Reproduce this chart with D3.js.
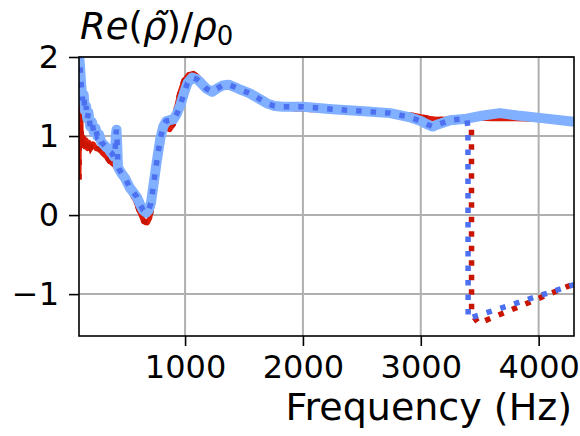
<!DOCTYPE html>
<html>
<head>
    <title></title>
    <meta charset="utf-8" />
    <style>
        body { margin: 0; background: #fff; }
        svg { display: block; }
        text { font-family: "DejaVu Sans", sans-serif; fill: #000; }
    </style>
    <script src="https://d3js.org/d3.v7.min.js"></script>
</head>
<body>

<svg id="svg"></svg>

<script>

// red solid curve
let freqRed = [100,103,106,110,114,118,122,128,135,142,150,160,172,185,200,220,245,270,300,330,360,400,440,480,530,580,620,650,680,700,720,740,760,790,810,840,870,900,930,960,990,1030,1070,1110,1150,1200,1240,1290,1350,1450,1530,1600,1700,1800,2000,2300,2600,2800,2950,3050,3150,3250,3400,3600,3800,4000,4300];
let reRed = [0.45,1.0,0.85,1.25,1.8,1.05,0.9,1.0,0.88,0.98,0.86,0.95,0.84,0.92,0.85,0.9,0.84,0.84,0.78,0.74,0.68,0.63,0.55,0.46,0.33,0.18,0.02,-0.08,-0.1,-0.04,0.12,0.42,0.74,1.02,1.12,1.1,1.08,1.15,1.38,1.57,1.7,1.78,1.79,1.75,1.67,1.56,1.55,1.6,1.63,1.59,1.55,1.48,1.4,1.36,1.34,1.32,1.3,1.28,1.26,1.23,1.21,1.22,1.23,1.22,1.22,1.21,1.2];

// light blue curve
let freqBlue = [100,110,120,130,140,150,160,170,180,195,210,225,240,255,270,290,305,330,350,365,380,395,405,412,418,424,430,440,460,490,530,560,590,620,645,670,690,710,730,760,790,815,840,870,900,930,960,990,1020,1060,1100,1130,1180,1230,1270,1320,1370,1420,1480,1550,1630,1700,1760,1830,2000,2250,2550,2740,2900,3000,3050,3100,3150,3250,3390,3530,3670,3820,4010,4300];
let reBlue = [2.05,1.85,1.62,1.45,1.52,1.32,1.38,1.22,1.3,1.12,1.18,1.05,1.1,1.0,1.02,0.92,0.9,0.86,0.84,0.8,0.78,0.74,0.74,1.0,1.08,0.9,0.62,0.58,0.53,0.47,0.35,0.29,0.23,0.13,0.06,0.03,0.06,0.15,0.36,0.68,0.97,1.12,1.19,1.2,1.21,1.28,1.39,1.54,1.67,1.74,1.72,1.68,1.6,1.56,1.6,1.64,1.65,1.62,1.58,1.54,1.47,1.41,1.38,1.37,1.37,1.34,1.31,1.29,1.24,1.19,1.15,1.12,1.15,1.2,1.22,1.26,1.29,1.26,1.23,1.18];

// dotted curves follow the solid ones, then jump down
let dropRed = 3420;
let tailFreqRed = [3430,3431,3490,4300];
let tailReRed = [1.12,-1.25,-1.37,-0.87];

let dropBlue = 3395;
let tailFreqBlue = [3400,3402,4300];
let tailReBlue = [1.11,-1.31,-0.88];

let xTicks = [1000, 2000, 3000, 4000];
let yTicks = [-1, 0, 1, 2];

let realW = 580;
let realH = 436;
let mLeft = 79, mRight = 574, mTop = 57, mBottom = 336;

let svg = d3.select("#svg")
    .attr("width", realW)
    .attr("height", realH);

let x = d3.scaleLinear().domain([100, 4300]).range([mLeft, mRight]);
let y = d3.scaleLinear().domain([-1.53, 2]).range([mBottom, mTop]);

function toPoints(fs, vs) {
    return fs.map((f, i) => [f, vs[i]]);
}

let redPts = toPoints(freqRed, reRed);
let bluePts = toPoints(freqBlue, reBlue);
let redDotPts = redPts.filter(d => d[0] < dropRed).concat(toPoints(tailFreqRed, tailReRed));
let blueDotPts = bluePts.filter(d => d[0] < dropBlue).concat(toPoints(tailFreqBlue, tailReBlue));

svg.append("clipPath").attr("id", "clip")
    .append("rect")
    .attr("x", mLeft).attr("y", mTop)
    .attr("width", mRight - mLeft).attr("height", mBottom - mTop);

// grid
svg.append("g").selectAll("line")
    .data(xTicks).enter().append("line")
    .attr("x1", d => x(d)).attr("x2", d => x(d))
    .attr("y1", mTop).attr("y2", mBottom)
    .attr("stroke", "#b0b0b0").attr("stroke-width", 2);

svg.append("g").selectAll("line")
    .data(yTicks).enter().append("line")
    .attr("x1", mLeft).attr("x2", mRight)
    .attr("y1", d => y(d)).attr("y2", d => y(d))
    .attr("stroke", "#b0b0b0").attr("stroke-width", 2);

let line = d3.line()
    .x(d => x(d[0]))
    .y(d => y(d[1]))
    .curve(d3.curveLinear);

let plot = svg.append("g").attr("clip-path", "url(#clip)");

plot.append("path").datum(redPts)
    .attr("d", line).attr("fill", "none")
    .attr("stroke", "#dc1a08").attr("stroke-width", 5)
    .attr("stroke-linejoin", "round");

plot.append("path").datum(redDotPts)
    .attr("d", line).attr("fill", "none")
    .attr("stroke", "#c81400").attr("stroke-width", 5.5)
    .attr("stroke-dasharray", "5.5,9");

plot.append("path").datum(bluePts)
    .attr("d", line).attr("fill", "none")
    .attr("stroke", "#80b0ff").attr("stroke-width", 10)
    .attr("stroke-linejoin", "round");

plot.append("path").datum(blueDotPts)
    .attr("d", line).attr("fill", "none")
    .attr("stroke", "#4d70f0").attr("stroke-width", 5.5)
    .attr("stroke-dasharray", "5.5,9");

// axes
let xAxis = svg.append("g")
    .attr("transform", "translate(0," + mBottom + ")")
    .call(d3.axisBottom(x).tickValues(xTicks).tickSize(10).tickPadding(9).tickFormat(d3.format("d")));

let yAxis = svg.append("g")
    .attr("transform", "translate(" + mLeft + ",0)")
    .call(d3.axisLeft(y).tickValues(yTicks).tickSize(10).tickPadding(10).tickFormat(d3.format("d")));

[xAxis, yAxis].forEach(a => {
    a.select(".domain").remove();
    a.selectAll("line").attr("stroke", "#000").attr("stroke-width", 1.6);
    a.selectAll("text").style("font-size", "32px").style("font-family", "DejaVu Sans");
});

// frame
svg.append("rect")
    .attr("x", mLeft).attr("y", mTop)
    .attr("width", mRight - mLeft).attr("height", mBottom - mTop)
    .attr("fill", "none").attr("stroke", "#000").attr("stroke-width", 1.6);

// labels
svg.append("text")
    .attr("x", 572).attr("y", 420)
    .attr("text-anchor", "end")
    .style("font-size", "38px")
    .text("Frequency (Hz)");

let title = svg.append("text")
    .attr("x", 80).attr("y", 39)
    .style("font-size", "37px");
title.append("tspan").style("font-style", "italic").text("Re");
title.append("tspan").text("(");
title.append("tspan").style("font-style", "italic").text("ρ\u0303");
title.append("tspan").text(")/");
title.append("tspan").style("font-style", "italic").text("ρ");
title.append("tspan").attr("dy", 6).style("font-size", "26px").text("0");

</script>

</body>
</html>
